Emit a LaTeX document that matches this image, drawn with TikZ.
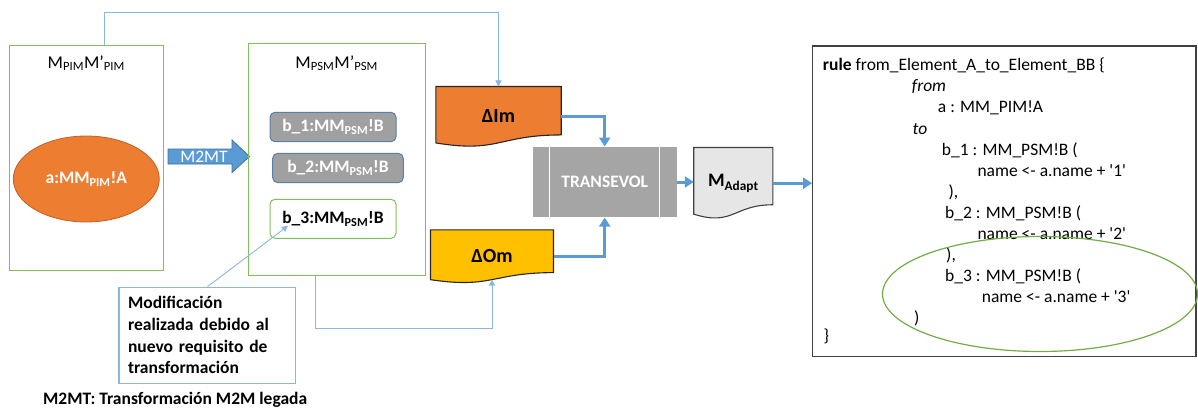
\documentclass[tikz,border=0pt]{standalone}
\usepackage{fontspec}
\setmainfont{Carlito}
\usetikzlibrary{calc,arrows.meta,backgrounds,shapes.geometric}

\definecolor{cOrange}{HTML}{ED7D31}
\definecolor{cOrangeEdge}{HTML}{C0612A}
\definecolor{cYellow}{HTML}{FFC000}
\definecolor{cGray}{HTML}{A5A5A5}
\definecolor{cObj}{HTML}{A0A0A0}
\definecolor{cObjEdge}{HTML}{5A7FA8}
\definecolor{cBlue}{HTML}{5B9BD5}
\definecolor{cBlueEdge}{HTML}{41719C}
\definecolor{cGreen}{HTML}{82BE5A}
\definecolor{cGreenOval}{HTML}{70AD47}
\definecolor{cLink}{HTML}{8AB6E0}
\definecolor{cDoc}{HTML}{E6E6E6}
\definecolor{cFrame}{HTML}{404040}

\newcommand\fsz{\fontsize{17.5}{21}\selectfont}

% document-shaped outline (flat top, wavy bottom) around a named node
\newcommand\docoutline[2]{%
  \filldraw[#2]
    (#1.north west) -- (#1.north east)
    -- ($(#1.north east)!0.802!(#1.south east)$)
    .. controls ($(#1.north)!0.802!(#1.south)$) and ($(#1.north)!1.107!(#1.south)$)
    .. ($(#1.north west)!0.934!(#1.south west)$) -- cycle;}

\tikzset{
  greenbox/.style={draw=cGreen, line width=1pt, inner sep=0pt},
  objbox/.style={rounded corners=5pt, line width=1pt, inner sep=0pt, font=\bfseries\fsz},
  docbox/.style={draw=none, inner sep=0pt},
  thinlink/.style={draw=cLink, line width=0.9pt, -{Triangle[length=6pt,width=6pt]}},
  thicklink/.style={draw=cBlue, line width=3pt, -{Triangle[length=9pt,width=11pt]}},
  codeline/.style={anchor=base west, inner sep=0pt, font=\fsz},
}

\begin{document}
\begin{tikzpicture}[x=1pt, y=-1pt]
\useasboundingbox (0,0) rectangle (1198,409);

% ---- PIM model
\node[greenbox, minimum width=154pt, minimum height=224.3pt] (pim) at (86.3,157.9) {};
\node[font=\fontsize{18}{21}\selectfont] (pimtitle) at (86.3,63) {M\textsubscript{PIM}M’\textsubscript{PIM}};
\node[ellipse, fill=cOrange, draw=cOrangeEdge, line width=0.8pt, minimum width=146pt, minimum height=86pt, inner sep=0pt,
      text=white, font=\bfseries\fsz] (a) at (86.3,179) {a:MM\textsubscript{PIM}!A};

% ---- M2MT block arrow
\filldraw[fill=cBlue, draw=cBlueEdge, line width=0.8pt]
  (168,149) -- (232,149) -- (232,140) -- (249.5,156.5) -- (232,172.5) -- (232,164) -- (168,164) -- cycle;
\node[text=white, font=\fsz, inner sep=0pt] (m2mt) at (204,156.5) {M2MT};

% ---- PSM model
\node[greenbox, minimum width=176.7pt, minimum height=231.7pt] (psm) at (336.7,159.2) {};
\node[font=\fontsize{18}{21}\selectfont] (psmtitle) at (336.7,63) {M\textsubscript{PSM}M’\textsubscript{PSM}};
\node[objbox, fill=cObj, draw=cObjEdge, text=white, minimum width=126pt, minimum height=29.4pt] (b1) at (333,127) {b\_1:MM\textsubscript{PSM}!B};
\node[objbox, fill=cObj, draw=cObjEdge, text=white, minimum width=130.6pt, minimum height=29.4pt] (b2) at (338,168) {b\_2:MM\textsubscript{PSM}!B};
\node[objbox, fill=white, draw=cGreen, minimum width=126pt, minimum height=39pt] (b3) at (333,218.8) {b\_3:MM\textsubscript{PSM}!B};

% ---- note and caption
\node[draw=cLink, line width=1.2pt, minimum width=176.7pt, minimum height=96pt, inner xsep=9pt, inner ysep=0pt,
      text width=158.7pt, align=left, font=\bfseries\fontsize{17.5}{21.7}\selectfont] (note) at (207.4,335.3)
  {Modificación\\realizada debido al\\nuevo requisito de\\transformación};
\draw[thinlink] (note.north) -- ([xshift=-45pt,yshift=-7pt]b3.center);
\node[anchor=base west, inner sep=0pt, font=\bfseries\fsz] (caption) at (43,404) {M2MT: Transformación M2M legada};

% ---- deltas, TRANSEVOL and adapted model
\node[docbox, minimum width=125pt, minimum height=60pt, font=\bfseries\fontsize{20}{24}\selectfont] (dIm) at (498.5,116.7) {\raisebox{1pt}{ΔIm}};
\node[docbox, minimum width=122.6pt, minimum height=53pt, font=\bfseries\fontsize{20}{24}\selectfont] (dOm) at (492,256.5) {ΔOm};
\node[docbox, minimum width=78.7pt, minimum height=71pt, font=\bfseries\fontsize{19}{22}\selectfont] (mad) at (733.3,183.2)
  {\raisebox{5pt}{M\textsubscript{Adapt}}};
\begin{pgfonlayer}{background}
  \docoutline{dIm}{fill=cOrange, draw=black!85, line width=1.1pt}
  \docoutline{dOm}{fill=cYellow, draw=black!85, line width=1.1pt}
  \docoutline{mad}{fill=cDoc, draw=cFrame, line width=1.1pt}
\end{pgfonlayer}

\node[fill=cGray, minimum width=144pt, minimum height=70.6pt, inner sep=0pt, text=white, font=\bfseries\fsz] (trans) at (604.7,182) {TRANSEVOL};
\draw[white, line width=1.6pt] ([xshift=17pt]trans.north west) -- ([xshift=17pt]trans.south west);
\draw[white, line width=1.6pt] ([xshift=-17.5pt]trans.north east) -- ([xshift=-17.5pt]trans.south east);

% ---- transformation rule
\node[draw=cFrame, line width=1.3pt, minimum width=383.3pt, minimum height=310.7pt, inner sep=0pt] (code) at (1004.4,201.4) {};
\node[codeline] (c0)  at (822.7,71)  {\textbf{rule} from\_Element\_A\_to\_Element\_BB \{};
\node[codeline] (c1)  at (911.7,92)  {\textit{from}};
\node[codeline] (c2)  at (937.7,113) {a : MM\_PIM!A};
\node[codeline] (c3)  at (912.5,134) {\textit{to}};
\node[codeline] (c4)  at (941.7,155) {b\_1 : MM\_PSM!B (};
\node[codeline] (c5)  at (977.3,176) {name <- a.name + \textquotesingle1\textquotesingle};
\node[codeline] (c6)  at (948.3,197) {),};
\node[codeline] (c7)  at (945,218)   {b\_2 : MM\_PSM!B (};
\node[codeline] (c8)  at (977.3,239) {name <- a.name + \textquotesingle2\textquotesingle};
\node[codeline] (c9)  at (946,260)   {),};
\node[codeline] (c10) at (945,281)   {b\_3 : MM\_PSM!B (};
\node[codeline] (c11) at (981.7,302) {name <- a.name + \textquotesingle3\textquotesingle};
\node[codeline] (c12) at (914,323)   {)};
\node[codeline] (c13) at (823.3,341) {\}};
\node[ellipse, draw=cGreenOval, line width=1.2pt, minimum width=315pt, minimum height=115pt, inner sep=0pt] (mark) at (1040,294) {};

% ---- connectors
\draw[thinlink] ([xshift=17.7pt]pim.north) -- ++(0,-33) -| (dIm.north);
\draw[thinlink] ([xshift=-21.6pt]psm.south) -- ++(0,53) -| ([yshift=3.6pt]dOm.south);
\draw[thicklink] (dIm.east) -| (trans.north);
\draw[thicklink] (dOm.east) -| (trans.south);
\draw[thicklink] (trans.east) -- (trans.east -| mad.west);
\draw[thicklink] (mad.east) -- (mad.east -| code.west);
\end{tikzpicture}
\end{document}
